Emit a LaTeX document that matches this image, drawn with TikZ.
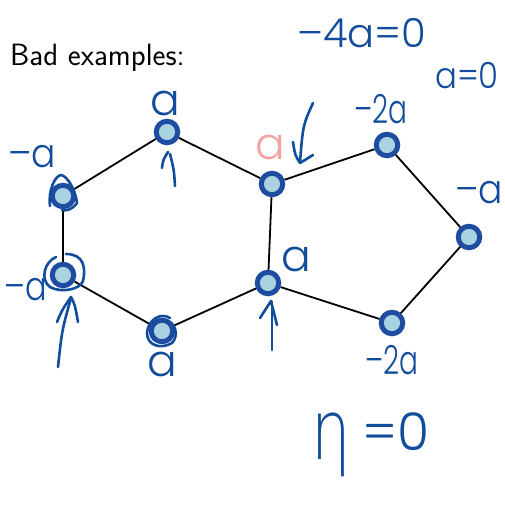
\documentclass[tikz,border=0pt]{standalone}
\usepackage{fontspec}
\newfontfamily\hand{Poppins}[UprightFont=* Light]
\newfontfamily\etafont{DejaVu Sans}[UprightFont=* ExtraLight]
\definecolor{nodeborder}{HTML}{1E4CA0}
\definecolor{nodefill}{HTML}{A9D3E1}
\definecolor{inkblue}{HTML}{124C9C}
\definecolor{inkpink}{HTML}{F4A3A3}
\begin{document}
\begin{tikzpicture}[x=1pt,y=-1pt,
  vert/.style={circle, draw=nodeborder, fill=nodefill, line width=5pt, minimum size=21.5pt, inner sep=0pt},
  edge/.style={draw=black, line width=1.8pt},
  ink/.style={draw=inkblue, line width=2.6pt, line cap=round, line join=round},
  hw/.style={text=inkblue, font=\hand\fontsize{40}{40}\selectfont, inner sep=0pt},
  hwone/.style={hw, font=\hand\fontsize{44}{44}\selectfont}]
\useasboundingbox (0,0) rectangle (504,506);
\node[anchor=base west, font=\sffamily\fontsize{30.8}{32}\selectfont, inner sep=0pt] (title) at (10,65) {Bad examples:};

\node[vert] (n1) at (167,132) {};
\node[vert] (n2) at (63,196) {};
\node[vert] (n3) at (63,275) {};
\node[vert] (n4) at (162,331) {};
\node[vert] (n5) at (268,283) {};
\node[vert] (n6) at (272,184) {};
\node[vert] (p1) at (387,145) {};
\node[vert] (p2) at (469,237) {};
\node[vert] (p3) at (392,323) {};

\draw[edge] (n1) -- (n2);
\draw[edge] (n2) -- (n3);
\draw[edge] (n3) -- (n4);
\draw[edge] (n4) -- (n5);
\draw[edge] (n5) -- (n6);
\draw[edge] (n6) -- (n1);
\draw[edge] (n6) -- (p1);
\draw[edge] (p1) -- (p2);
\draw[edge] (p2) -- (p3);
\draw[edge] (p3) -- (n5);

% handwritten labels
\node[hw] (l4a) at (362,33) {–4a=0};
\node[hw, font=\hand\fontsize{36}{36}\selectfont, xscale=0.9] (la0) at (467,76) {a=0};
\node[hw, xscale=0.7] (lp1) at (381,109) {–2a};
\node[hwone] (ln1) at (165,103) {a};
\node[hw, xscale=0.9] (ln2) at (32,157) {–a};
\node[hw, xscale=0.8] (ln3) at (26,290) {–a};
\node[hwone] (ln4) at (162,364) {a};
\node[hwone, text=inkpink] (ln6) at (270,147) {a};
\node[hwone] (ln5) at (296,259) {a};
\node[hw, xscale=0.9] (lp2) at (479,193) {–a};
\node[hw, xscale=0.7] (lp3) at (392,360) {–2a};
\node[hw, anchor=base west, font=\etafont\fontsize{52}{52}\selectfont, xscale=1.2, yscale=1.6] (eta) at (311,459) {η};
\node[hw, anchor=base west, font=\hand\fontsize{52}{52}\selectfont] (eq0) at (362,450) {=0};

% arrows
\draw[ink] (175,186) .. controls (174,170) .. (170,154);
\draw[ink] (162,168) .. controls (163,160) .. (168,152);
\draw[ink] (58,367) .. controls (62,330) .. (71,298);
\draw[ink] (57,322) .. controls (62,310) .. (71,297) .. controls (75,305) .. (78,322);
\draw[ink] (272,350) -- (272,302);
\draw[ink] (260,318) -- (271,301) -- (277,325);
\draw[ink] (313,103) .. controls (303,125) .. (300,162);
\draw[ink] (293,142) .. controls (295,155) .. (300,163) -- (313,155);

% scribbles around nodes
\draw[ink] (50,206) .. controls (48,190) and (55,176) .. (61,175) .. controls (68,176) and (76,192) .. (77,203) .. controls (72,210) and (66,211) .. (62,210);
\draw[ink] (66,254) .. controls (84,254) and (86,268) .. (83,281) .. controls (80,290) and (60,293) .. (50,287) .. controls (40,280) and (44,262) .. (56,257);
\draw[ink] (170,318) .. controls (160,312) and (148,320) .. (147,333) .. controls (147,345) and (160,350) .. (172,343) .. controls (179,336) and (176,322) .. (165,320);
\end{tikzpicture}
\end{document}
